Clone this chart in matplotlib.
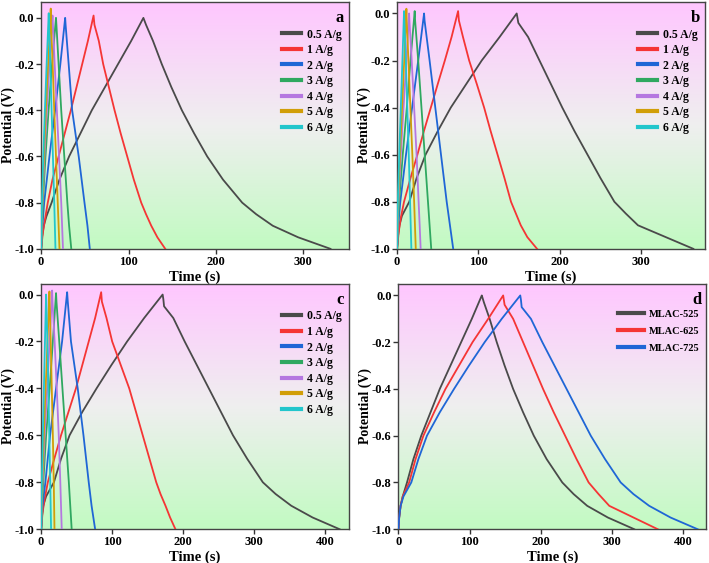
import matplotlib
matplotlib.use("Agg")
import matplotlib.pyplot as plt
import numpy as np
from matplotlib.colors import LinearSegmentedColormap

# ---------------- data ----------------
# potential steps used by the slower curves (charge -> peak -> discharge)
v_long = [-1, -0.95, -0.9, -0.86, -0.8, -0.7, -0.6, -0.5, -0.4, -0.3, -0.2, -0.1, 0.0,
          -0.01, -0.03, -0.1, -0.2, -0.3, -0.4, -0.5, -0.6, -0.7, -0.8, -0.85, -0.9, -0.95, -1.0]

# 0.5 A/g curves of the three samples (also used in panel d)
t_525 = [0, 1, 3, 6, 12, 21, 32, 45, 58, 73, 88, 103, 117,
         118, 120, 128, 138, 149, 161, 175, 190, 208, 230, 246, 265, 294, 331]
v_525 = v_long
t_625 = [0, 1, 3, 6, 15, 24, 35, 50, 66, 85, 104, 126, 147,
         148, 149, 161, 175, 189, 203, 218, 234, 250, 267, 281, 296, 330, 364]
v_625 = [-1, -0.95, -0.9, -0.86, -0.8, -0.7, -0.6, -0.5, -0.4, -0.3, -0.2, -0.1, 0.0,
         -0.02, -0.04, -0.1, -0.2, -0.3, -0.4, -0.5, -0.6, -0.7, -0.8, -0.85, -0.9, -0.95, -1.0]
t_725 = [0, 1, 3, 7, 18, 28, 40, 58, 78, 99, 121, 145, 171,
         172, 173, 186, 202, 219, 236, 253, 270, 290, 312, 330, 352, 382, 420]
v_725 = [-1, -0.95, -0.9, -0.86, -0.8, -0.7, -0.6, -0.5, -0.4, -0.3, -0.2, -0.1, 0.0,
         -0.02, -0.05, -0.1, -0.2, -0.3, -0.4, -0.5, -0.6, -0.7, -0.8, -0.85, -0.9, -0.95, -1.0]

# 1 A/g curves
v_1ag = [-1, -0.93, -0.87, -0.8, -0.7, -0.6, -0.5, -0.4, -0.3, -0.2, -0.1, 0.01,
         -0.03, -0.1, -0.2, -0.3, -0.4, -0.5, -0.6, -0.7, -0.8, -0.85, -0.9, -0.95, -1.0]
t_a_1 = [0, 2, 4.5, 7.6, 13, 20, 27, 34, 40.5, 47, 53.5, 60,
         61, 66, 71, 77.5, 84, 91, 98.5, 106, 114.5, 120, 126, 133, 142]
t_b_1 = [0, 2, 4.5, 8.6, 16.5, 25, 33, 41.5, 50, 58.7, 67, 75,
         76, 81, 88.6, 98, 107, 115, 123.5, 132, 140, 146, 152, 160, 172]
t_c_1 = [0, 2, 5, 9.4, 18.5, 28, 38.5, 49, 58, 67, 76, 84.5,
         85.5, 92, 100, 112, 124, 133.5, 143, 152.5, 162, 168, 175, 181.5, 189]

# fast curves: 2..6 A/g, charge to peak then discharge
v_short = [-1, -0.9, -0.8, -0.6, -0.4, -0.2, 0.0, -0.03, -0.2, -0.4, -0.6, -0.8, -0.9, -1]
peak_a = [0.0, 0.0, 0.01, 0.04, 0.02]
peak_b = [0.0, 0.01, 0.0, 0.02, 0.01]
peak_c = [0.01, 0.006, 0.017, 0.013, 0.0]
t_a_fast = [
    [0, 1.5, 3.5, 9.5, 16, 22, 27.5, 28, 31.5, 35.5, 43, 49.6, 53, 55.7],
    [0, 1, 2, 5, 8.5, 12.5, 17, 17.5, 20, 23, 26.5, 30, 32, 34.5],
    [0, 0.7, 1.5, 3.8, 6.5, 9.5, 13, 13.5, 15.5, 18, 20.5, 23, 24, 25],
    [0, 0.6, 1.3, 3.2, 5.4, 8, 11, 11.3, 13.2, 15, 17, 19, 20, 21],
    [0, 0.5, 1, 2.5, 4.3, 6.3, 8.7, 9, 10.5, 12, 13.5, 15, 15.7, 16.4],
]
t_b_fast = [
    [0, 1.5, 4, 11, 18.5, 26, 33.2, 33.8, 40, 47, 54, 61, 65, 69],
    [0, 1, 2.5, 7, 12, 16.5, 21.7, 22.2, 26, 30, 34, 38, 40, 42],
    [0, 0.7, 1.7, 4.6, 8, 11.5, 14.8, 15.2, 18, 21, 24, 26.5, 27.8, 29],
    [0, 0.6, 1.3, 3.6, 6.2, 8.8, 11.5, 11.9, 14, 16.4, 18.8, 21, 22, 23],
    [0, 0.5, 1, 2.7, 4.6, 6.6, 8.6, 9, 10.8, 12.6, 14.4, 16, 16.8, 17.6],
]
t_c_fast = [
    [0, 2, 6, 12.6, 21, 29.5, 36.6, 37.5, 42, 51.5, 59.6, 67, 71, 76],
    [0, 1, 3, 7, 12, 16.5, 21, 21.6, 25.5, 30, 34.5, 39, 41, 43],
    [0, 0.8, 2, 5, 8.5, 12, 15.5, 16, 19, 22, 24.8, 27, 28, 29],
    [0, 0.6, 1.5, 3.8, 6.3, 9, 11.7, 12, 13.5, 15, 16.5, 17.8, 18.3, 18.8],
    [0, 0.4, 1, 2.4, 3.9, 5.4, 7, 7.4, 8.8, 10.2, 11.5, 12.8, 13.4, 14],
]

rate_labels = ["0.5 A/g", "1 A/g", "2 A/g", "3 A/g", "4 A/g", "5 A/g", "6 A/g"]
sample_labels = ["MLAC-525", "MLAC-625", "MLAC-725"]
colors = ["#4a4a4a", "#f53535", "#1f66d6", "#2fa860", "#b577e0", "#d19e08", "#22c6cc"]

plt.rcParams['font.family'] = ['Liberation Serif', 'DejaVu Serif']
plt.rcParams['font.weight'] = 'bold'

fig = plt.figure(figsize=(7.09, 5.63), dpi=100)

grad_cmap = LinearSegmentedColormap.from_list(
    "bg", [(0.0, "#c2fbc2"), (0.5, "#efefef"), (1.0, "#ffc6ff")])


def style_axes(ax, xmax, ytop, letter):
    grad = np.linspace(0, 1, 256).reshape(-1, 1)
    ax.imshow(grad, cmap=grad_cmap, aspect='auto', origin='lower',
              extent=[0, 1, 0, 1], transform=ax.transAxes, zorder=0)
    ax.set_xlim(0, xmax)
    ax.set_ylim(-1.0, ytop)
    ax.set_yticks([0.0, -0.2, -0.4, -0.6, -0.8, -1.0])
    ax.set_yticklabels(["0.0", "-0.2", "-0.4", "-0.6", "-0.8", "-1.0"])
    xt = [0, 100, 200, 300, 400]
    xt = [x for x in xt if x <= xmax]
    ax.set_xticks(xt)
    ax.tick_params(direction='out', length=3.5, width=1, labelsize=9,
                   color='#333333', labelcolor='black', pad=1.5)
    for lab in ax.get_xticklabels() + ax.get_yticklabels():
        lab.set_fontweight('bold')
    for sp in ax.spines.values():
        sp.set_color('#444444')
        sp.set_linewidth(1.0)
    ax.set_xlabel("Time (s)", fontsize=10.5, fontweight='bold')
    ax.set_ylabel("Potential (V)", fontsize=10, fontweight='bold')
    ax.xaxis.set_label_coords(0.5, -0.088)
    ax.yaxis.set_label_coords(-0.086, 0.5)
    ax.text(0.985, 0.965, letter, transform=ax.transAxes, ha='right', va='top',
            fontsize=12, fontweight='bold')


def rate_panel(ax, t_slow, v_slow, t_one, t_fast, peaks, xmax, ytop, letter):
    style_axes(ax, xmax, ytop, letter)
    ax.plot(t_slow, v_slow, color=colors[0], lw=1.3, label=rate_labels[0], zorder=3)
    ax.plot(t_one, v_1ag, color=colors[1], lw=1.3, label=rate_labels[1], zorder=3)
    for i, t in enumerate(t_fast):
        v = list(v_short)
        v[6] = peaks[i]
        ax.plot(t, v, color=colors[i + 2], lw=1.3, label=rate_labels[i + 2], zorder=3)
    ax.legend(loc='upper right', bbox_to_anchor=(1.0, 0.92), frameon=False,
              fontsize=8.5, handlelength=1.6, handletextpad=0.5, labelspacing=0.3,
              borderaxespad=0.2)
    for line in ax.get_legend().get_lines():
        line.set_linewidth(3)


ax_a = fig.add_axes([0.058, 0.558, 0.434, 0.439])
ax_b = fig.add_axes([0.560, 0.558, 0.434, 0.439])
ax_c = fig.add_axes([0.058, 0.060, 0.434, 0.436])
ax_d = fig.add_axes([0.562, 0.060, 0.434, 0.436])

rate_panel(ax_a, t_525, v_525, t_a_1, t_a_fast, peak_a, 352, 0.07, "a")
rate_panel(ax_b, t_625, v_625, t_b_1, t_b_fast, peak_b, 378, 0.05, "b")
rate_panel(ax_c, t_725, v_725, t_c_1, t_c_fast, peak_c, 433, 0.046, "c")

style_axes(ax_d, 432, 0.05, "d")
for t, v, c, lab in zip([t_525, t_625, t_725], [v_525, v_625, v_725],
                        colors[:3], sample_labels):
    ax_d.plot(t, v, color=c, lw=1.3, label=lab, zorder=3)
ax_d.legend(loc='upper right', bbox_to_anchor=(1.0, 0.92), frameon=False,
            fontsize=7.5, handlelength=2.5, handletextpad=0.5, labelspacing=0.75,
            borderaxespad=0.2)
for line in ax_d.get_legend().get_lines():
    line.set_linewidth(3)

fig.savefig("out.png", dpi=100)
